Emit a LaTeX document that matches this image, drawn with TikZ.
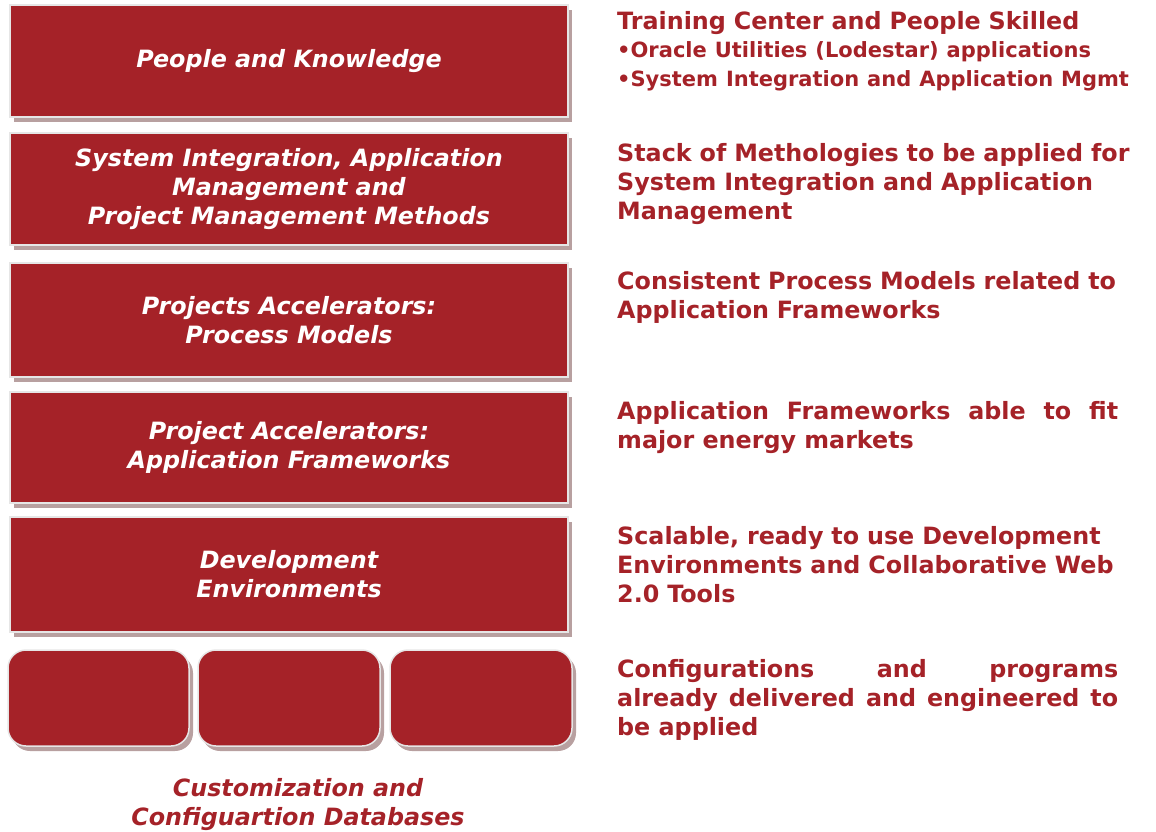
\documentclass[tikz,border=0pt]{standalone}
\usepackage{fontspec}
\setmainfont{DejaVu Sans}
\usetikzlibrary{shadows}

\definecolor{boxred}{HTML}{A52228}
\definecolor{shadowpink}{HTML}{B8A0A0}
\definecolor{edgegray}{HTML}{E6E6E6}

\tikzset{
	layer/.style={rectangle, fill=boxred, draw=edgegray, line width=1.5pt, inner sep=0pt,
		minimum width=558pt, text=white, align=center,
		font=\fontsize{23.8}{29}\selectfont\bfseries\itshape,
		general shadow={fill=shadowpink, shadow xshift=4pt, shadow yshift=-5pt}},
	dbbox/.style={layer, rounded corners=18pt, minimum width=181pt, minimum height=96pt},
	note/.style={anchor=base west, inner sep=0pt, text=boxred, text width=540pt, align=left,
		font=\fontsize{23.8}{29}\selectfont\bfseries},
	justnote/.style={note, text width=501pt, align=justify},
}

\begin{document}
\begin{tikzpicture}[x=1pt, y=-1pt]
		\useasboundingbox (0,0) rectangle (1156,831);
		
		% stack of layers
		\node[layer, minimum height=112pt] (people) at (289,61) {People and Knowledge};
		\node[layer, minimum height=112pt] (methods) at (289,189)
			{System Integration, Application\\Management and\\Project Management Methods};
		\node[layer, minimum height=114pt] (process) at (289,320)
			{Projects Accelerators:\\Process Models};
		\node[layer, minimum height=111pt] (frameworks) at (289,447.5)
			{Project Accelerators:\\Application Frameworks};
		\node[layer, minimum height=115pt] (devenv) at (289,574.5)
			{Development\\Environments};
		
		% databases
		\node[dbbox] (dbA) at (98.5,698) {};
		\node[dbbox, minimum width=182pt] (dbB) at (289,698) {};
		\node[dbbox, minimum width=182pt] (dbC) at (481,698) {};
		\node[text=boxred, align=center, font=\fontsize{23.8}{29}\selectfont\bfseries\itshape] (dbcap) at (298,805)
			{Customization and\\Configuartion Databases};
		
		% descriptions
		\node[note] (peopletxt) at (617,29) {Training Center and People Skilled\par
			\fontsize{21}{28}\selectfont •Oracle Utilities (Lodestar) applications\par
			•System Integration and Application Mgmt};
		\node[note] (methodstxt) at (617,161)
			{Stack of Methologies to be applied for\\System Integration and Application\\Management};
		\node[note] (processtxt) at (617,289)
			{Consistent Process Models related to\\Application Frameworks};
		\node[justnote] (frameworkstxt) at (617,419)
			{Application Frameworks able to fit\linebreak major energy markets};
		\node[note] (devenvtxt) at (617,544)
			{Scalable, ready to use Development\\Environments and Collaborative Web\\2.0 Tools};
		\node[justnote] (dbtxt) at (617,677)
			{Configurations and programs\linebreak already delivered and engineered to\linebreak be applied};
	\end{tikzpicture}
\end{document}
